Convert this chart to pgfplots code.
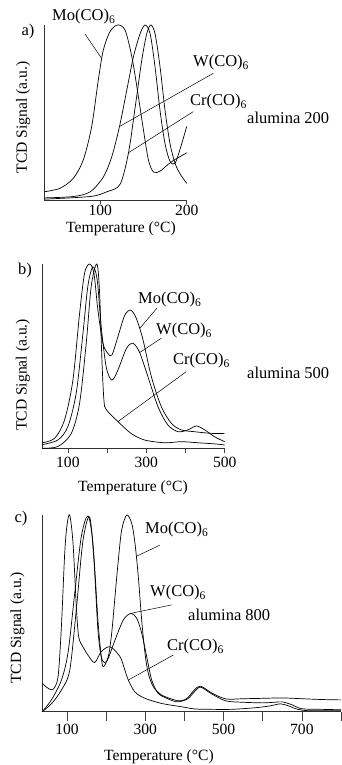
\documentclass[border=0pt]{standalone}
\usepackage{fontspec}
\setmainfont{Liberation Serif}
\usepackage{pgfplots}
\pgfplotsset{compat=1.18}
\newcommand\fa{\fontsize{16.5}{19}\selectfont}
\newcommand\fb{\fontsize{15.6}{18}\selectfont}
\newcommand\sub[1]{\textsubscript{#1}}
\tikzset{lead/.style={black, line width=0.5pt},
  cur/.style={black, line width=0.7pt, smooth, mark=none}}
\pgfplotsset{
  tcd/.style={scale only axis, anchor=south west, axis lines=left,
    axis line style={-, line width=0.6pt, black!80},
    ytick=\empty, tick align=outside, tick style={black!75, line width=0.5pt},
    ymin=0, ymax=1, clip=false,
    /pgf/number format/assume math mode=true,
    ylabel={TCD Signal (a.u.)},
    every axis y label/.append style={inner sep=0pt}}
}
\begin{document}
\begin{tikzpicture}
\useasboundingbox (0,0) rectangle (341pt,-765pt);
% ---------------- panel a
\begin{axis}[tcd, at={(44pt,-200pt)}, width=142.7pt, height=175pt,
  xmin=35, xmax=200, xtick={100,200}, major tick length=4pt,
  xticklabel style={font=\fb, inner sep=0pt, yshift=-1pt},
  ylabel style={at={(axis description cs:-0.147,0.471)}, anchor=center, font=\fb}]
\addplot[cur] coordinates {(35.4,0.047)(53.5,0.067)(68.9,0.124)(80.4,0.229)(90.1,0.419)(97.8,0.686)(103.6,0.857)(111.3,0.962)(120,1.0)(128.8,0.97)(136.5,0.82)(142.3,0.65)(150,0.40)(155.7,0.23)(161.5,0.16)(169.2,0.165)(178.8,0.205)(186,0.23)(193,0.25)(200,0.27)};
\addplot[cur] coordinates {(35.4,0.012)(69.2,0.02)(88.5,0.047)(103.8,0.133)(113.5,0.25)(122.3,0.42)(130.8,0.63)(138.5,0.82)(146.1,0.95)(151.9,1.0)(157.7,0.95)(163.4,0.76)(169.2,0.51)(175,0.32)(180.8,0.22)(186.5,0.21)(192.3,0.29)(200,0.42)};
\addplot[cur] coordinates {(35.4,0.005)(88.5,0.02)(107.7,0.047)(123,0.09)(132.7,0.27)(140.4,0.53)(148.1,0.80)(153.8,0.95)(158.5,1.0)(163.4,0.95)(169.2,0.76)(175,0.51)(180.8,0.32)(186.5,0.21)(192.3,0.15)(200,0.095)};
\draw[lead] (axis cs:82.4,0.949) -- (axis cs:101.5,0.81);
\draw[lead] (axis cs:230.8,0.724) -- (axis cs:122.3,0.42);
\draw[lead] (axis cs:207.6,0.505) -- (axis cs:132.7,0.27);
\end{axis}
\node[font=\fb, inner sep=0pt] at (121pt,-228.5pt) {Temperature (°C)};
\node[font=\fa, inner sep=0pt] at (28pt,-32pt) {a)};
\node[font=\fa, inner sep=0pt, anchor=west] at (52pt,-17pt) {Mo(CO)\sub{6}};
\node[font=\fa, inner sep=0pt, anchor=west] at (193pt,-63pt) {W(CO)\sub{6}};
\node[font=\fa, inner sep=0pt, anchor=west] at (190pt,-102pt) {Cr(CO)\sub{6}};
\node[font=\fa, inner sep=0pt, anchor=west] at (247pt,-118pt) {alumina 200};
% ---------------- panel b
\begin{axis}[tcd, at={(42pt,-448.3pt)}, width=182.7pt, height=184.3pt,
  xmin=34, xmax=500, xtick={100,200,300,400,500}, xticklabels={100,,300,,500},
  major tick length=4.5pt,
  xticklabel style={font=\fb, inner sep=4pt},
  ylabel style={at={(axis description cs:-0.104,0.398)}, anchor=center, font=\fb}]
\addplot[cur] coordinates {(34,0.03)(66,0.054)(91.5,0.154)(112.8,0.37)(129.8,0.73)(142.6,0.95)(155.3,1.0)(166.4,0.95)(176.6,0.75)(189.4,0.57)(202,0.515)(212.3,0.506)(227.7,0.606)(244.7,0.72)(260,0.75)(274.5,0.705)(291.5,0.59)(312.8,0.39)(338.3,0.226)(363.8,0.136)(389,0.1)(423,0.09)(466,0.081)(500,0.081)};
\addplot[cur] coordinates {(34,0.02)(74.5,0.045)(100,0.118)(121.3,0.30)(138.3,0.62)(151,0.88)(163.8,0.985)(175,0.91)(185,0.66)(197.9,0.44)(212.3,0.37)(227.7,0.425)(249,0.54)(266,0.57)(283,0.52)(304,0.39)(329.8,0.226)(355,0.127)(381,0.09)(406,0.1)(427.7,0.121)(449,0.1)(474,0.063)(500,0.036)};
\addplot[cur] coordinates {(34,0.0)(74.5,0.01)(108.5,0.08)(129.8,0.244)(146.8,0.57)(159.6,0.88)(174,1.0)(181,0.84)(186.8,0.48)(192,0.26)(198,0.21)(227.7,0.145)(261.7,0.08)(295.7,0.045)(346.8,0.03)(389,0.036)(432,0.03)(474,0.024)(500,0.018)};
\draw[lead] (axis cs:327.4,0.761) -- (axis cs:283,0.65);
\draw[lead] (axis cs:338.3,0.597) -- (axis cs:283.2,0.52);
\draw[lead] (axis cs:402.1,0.416) -- (axis cs:227.7,0.145);
\end{axis}
\node[font=\fb, inner sep=0pt] at (133pt,-488pt) {Temperature (°C)};
\node[font=\fa, inner sep=0pt] at (25pt,-271pt) {b)};
\node[font=\fa, inner sep=0pt, anchor=west] at (138pt,-300pt) {Mo(CO)\sub{6}};
\node[font=\fa, inner sep=0pt, anchor=west] at (156pt,-331pt) {W(CO)\sub{6}};
\node[font=\fa, inner sep=0pt, anchor=west] at (173pt,-361pt) {Cr(CO)\sub{6}};
\node[font=\fa, inner sep=0pt, anchor=west] at (247pt,-373pt) {alumina 500};
% ---------------- panel c
\begin{axis}[tcd, at={(42pt,-711.7pt)}, width=299pt, height=196.7pt,
  xmin=36, xmax=800, xtick={100,200,300,400,500,600,700,800}, xticklabels={100,,300,,500,,700,},
  major tick length=9pt,
  xticklabel style={font=\fb, inner sep=3pt},
  ylabel style={at={(axis description cs:-0.082,0.426)}, anchor=center, font=\fb}]
\addplot[cur] coordinates {(36.4,0.0)(60,0.06)(85.5,0.16)(102.5,0.30)(119.5,0.60)(136.4,0.89)(153.4,0.995)(166.2,0.856)(178.9,0.466)(187.4,0.28)(192.6,0.229)(205.4,0.28)(214,0.398)(222.5,0.585)(231,0.77)(239.6,0.924)(252.4,1.0)(265.2,0.958)(273.6,0.856)(282.1,0.686)(290.7,0.466)(299.2,0.297)(307.6,0.195)(320.4,0.127)(341.8,0.085)(375.8,0.059)(392.9,0.056)(407.9,0.07)(425,0.11)(441,0.13)(470,0.095)(506,0.065)(550,0.066)(600,0.068)(650,0.07)(700,0.066)(750,0.062)(800,0.06)};
\addplot[cur] coordinates {(36.4,0.0)(60,0.04)(85.5,0.11)(106.8,0.21)(123.7,0.52)(140.7,0.87)(157.8,0.99)(168.7,0.77)(178.9,0.415)(187.4,0.28)(195.8,0.25)(205,0.27)(222.5,0.364)(243.7,0.466)(263,0.5)(278,0.475)(290.7,0.4)(303.5,0.28)(316.3,0.161)(333.1,0.093)(358.7,0.065)(382,0.05)(407.9,0.065)(425,0.1)(441,0.125)(470,0.09)(506,0.055)(550,0.048)(600,0.045)(630,0.048)(650,0.05)(675,0.035)(700,0.015)(750,0.012)(800,0.01)};
\addplot[cur] coordinates {(36.4,0.144)(51.7,0.119)(64.4,0.114)(77,0.178)(85.5,0.43)(94,0.805)(100,0.95)(106.8,1.0)(115.3,0.856)(123.7,0.534)(129.8,0.38)(140.7,0.33)(153.4,0.288)(170.5,0.25)(187.4,0.305)(209.7,0.33)(235.3,0.28)(248,0.21)(256.5,0.161)(273.6,0.10)(299.2,0.068)(341.8,0.042)(392.9,0.025)(426.9,0.014)(470,0.012)(520,0.012)(580,0.02)(620,0.03)(645,0.04)(665,0.03)(690,0.012)(720,0.005)(800,0.005)};
\draw[lead] (axis cs:337.5,0.847) -- (axis cs:277,0.79);
\draw[lead] (axis cs:367.4,0.543) -- (axis cs:263,0.5);
\draw[lead] (axis cs:371.5,0.288) -- (axis cs:256.5,0.161);
\end{axis}
\node[font=\fb, inner sep=0pt] at (159pt,-757pt) {Temperature (°C)};
\node[font=\fa, inner sep=0pt] at (21pt,-519pt) {c)};
\node[font=\fa, inner sep=0pt, anchor=west] at (145pt,-530pt) {Mo(CO)\sub{6}};
\node[font=\fa, inner sep=0pt, anchor=west] at (150pt,-593pt) {W(CO)\sub{6}};
\node[font=\fa, inner sep=0pt, anchor=west] at (167pt,-647pt) {Cr(CO)\sub{6}};
\node[font=\fa, inner sep=0pt, anchor=west] at (188pt,-615pt) {alumina 800};
\end{tikzpicture}
\end{document}
